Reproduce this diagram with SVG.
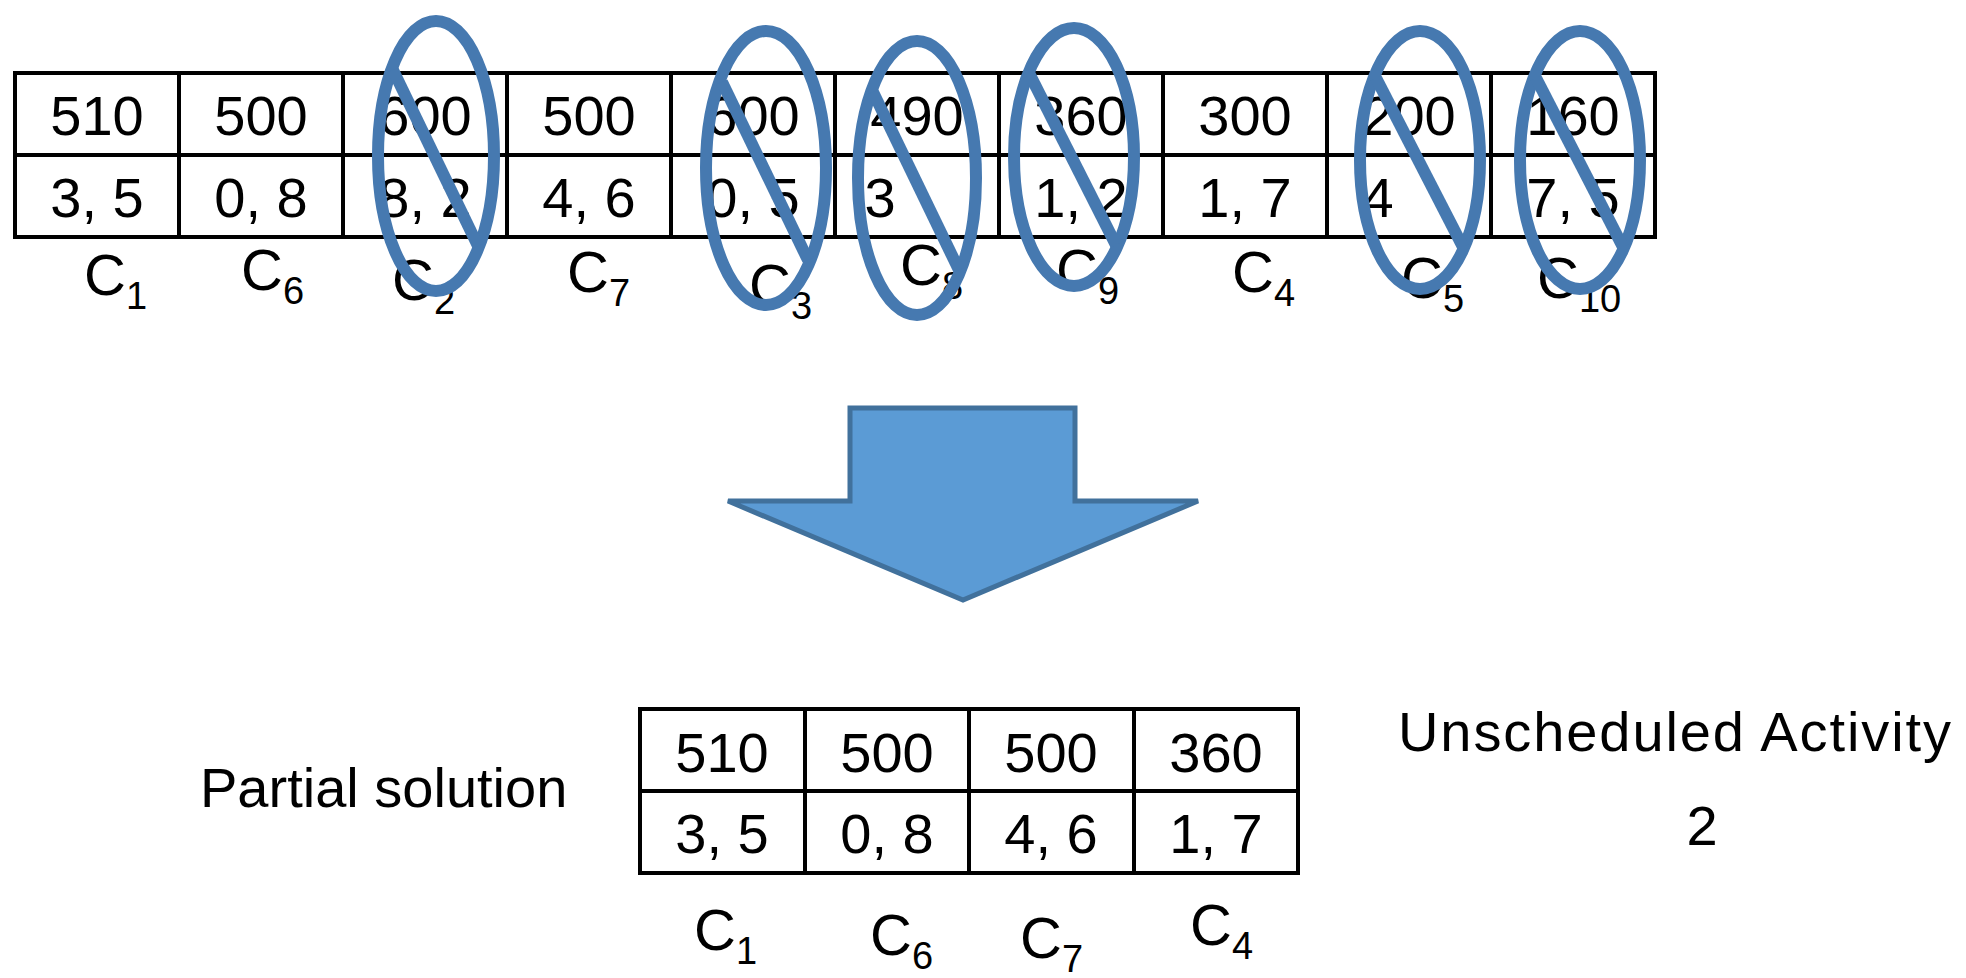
<svg xmlns="http://www.w3.org/2000/svg" width="1966" height="978" viewBox="0 0 1966 978">
<style>
.cell{fill:#fff;stroke:#000;stroke-width:4}
.t{font-family:"Liberation Sans",Arial,sans-serif;font-size:56px;fill:#000;text-anchor:middle}
.c{font-family:"Liberation Sans",Arial,sans-serif;font-size:58px;fill:#000}
.s{font-size:38px}
.lbl{font-family:"Liberation Sans",Arial,sans-serif;font-size:56px;fill:#000}
.x{fill:none;stroke:#4679B0;stroke-width:12}
</style>
<rect width="1966" height="978" fill="#fff"/>
<g id="top-table">
<rect class="cell" x="15" y="73" width="1640" height="164"/>
<path d="M15 155H1655M179 73V237M343 73V237M507 73V237M671 73V237M835 73V237M999 73V237M1163 73V237M1327 73V237M1491 73V237" stroke="#000" stroke-width="4" fill="none"/>
<g class="t">
<text x="97" y="135">510</text><text x="97" y="217">3, 5</text>
<text x="261" y="135">500</text><text x="261" y="217">0, 8</text>
<text x="425" y="135">600</text><text x="425" y="217">8, 2</text>
<text x="589" y="135">500</text><text x="589" y="217">4, 6</text>
<text x="753" y="135">600</text><text x="753" y="217">0, 5</text>
<text x="917" y="135">490</text><text x="880" y="217">3</text>
<text x="1081" y="135">360</text><text x="1081" y="217">1, 2</text>
<text x="1245" y="135">300</text><text x="1245" y="217">1, 7</text>
<text x="1409" y="135">200</text><text x="1378" y="217">4</text>
<text x="1573" y="135">160</text><text x="1573" y="217">7, 5</text>
</g>
<g class="c">
<text x="84" y="295">C<tspan class="s" dy="14">1</tspan></text>
<text x="241" y="290">C<tspan class="s" dy="14">6</tspan></text>
<text x="392" y="300">C<tspan class="s" dy="14">2</tspan></text>
<text x="567" y="292">C<tspan class="s" dy="14">7</tspan></text>
<text x="749" y="305">C<tspan class="s" dy="14">3</tspan></text>
<text x="900" y="285">C<tspan class="s" dy="14">8</tspan></text>
<text x="1056" y="290">C<tspan class="s" dy="14">9</tspan></text>
<text x="1232" y="292">C<tspan class="s" dy="14">4</tspan></text>
<text x="1401" y="298">C<tspan class="s" dy="14">5</tspan></text>
<text x="1537" y="298">C<tspan class="s" dy="14">10</tspan></text>
</g>
</g>
<g id="crossouts">
<ellipse class="x" cx="436" cy="156" rx="58" ry="135"/><line class="x" x1="393" y1="70" x2="478" y2="246"/>
<ellipse class="x" cx="766" cy="168" rx="60" ry="137"/><line class="x" x1="722" y1="82" x2="808" y2="260"/>
<ellipse class="x" cx="917" cy="178" rx="59" ry="137"/><line class="x" x1="873" y1="92" x2="959" y2="270"/>
<ellipse class="x" cx="1074" cy="157" rx="60" ry="129"/><line class="x" x1="1030" y1="75" x2="1116" y2="245"/>
<ellipse class="x" cx="1420" cy="160" rx="60" ry="129"/><line class="x" x1="1376" y1="78" x2="1463" y2="247"/>
<ellipse class="x" cx="1580" cy="160" rx="60" ry="129"/><line class="x" x1="1536" y1="78" x2="1623" y2="247"/>
</g>
<g id="connectors">
<path id="arrow" d="M850 408H1075V501H1198L963 600L728 501H850Z" fill="#5B9BD5" stroke="#41719C" stroke-width="5" stroke-linejoin="miter"/>
</g>
<g id="partial-label"><text class="lbl" x="200" y="807">Partial solution</text></g>
<g id="bottom-table">
<rect class="cell" x="640" y="709" width="658" height="164"/>
<path d="M640 791H1298M805 709V873M969 709V873M1134 709V873" stroke="#000" stroke-width="4" fill="none"/>
<g class="t">
<text x="722" y="772">510</text><text x="722" y="853">3, 5</text>
<text x="887" y="772">500</text><text x="887" y="853">0, 8</text>
<text x="1051" y="772">500</text><text x="1051" y="853">4, 6</text>
<text x="1216" y="772">360</text><text x="1216" y="853">1, 7</text>
</g>
<g class="c">
<text x="694" y="950">C<tspan class="s" dy="14">1</tspan></text>
<text x="870" y="955">C<tspan class="s" dy="14">6</tspan></text>
<text x="1020" y="958">C<tspan class="s" dy="14">7</tspan></text>
<text x="1190" y="945">C<tspan class="s" dy="14">4</tspan></text>
</g>
</g>
<g id="unscheduled">
<text class="lbl" x="1398" y="751" font-size="58" textLength="553">Unscheduled Activity</text>
<text class="lbl" x="1702" y="845" text-anchor="middle">2</text>
</g>
</svg>
